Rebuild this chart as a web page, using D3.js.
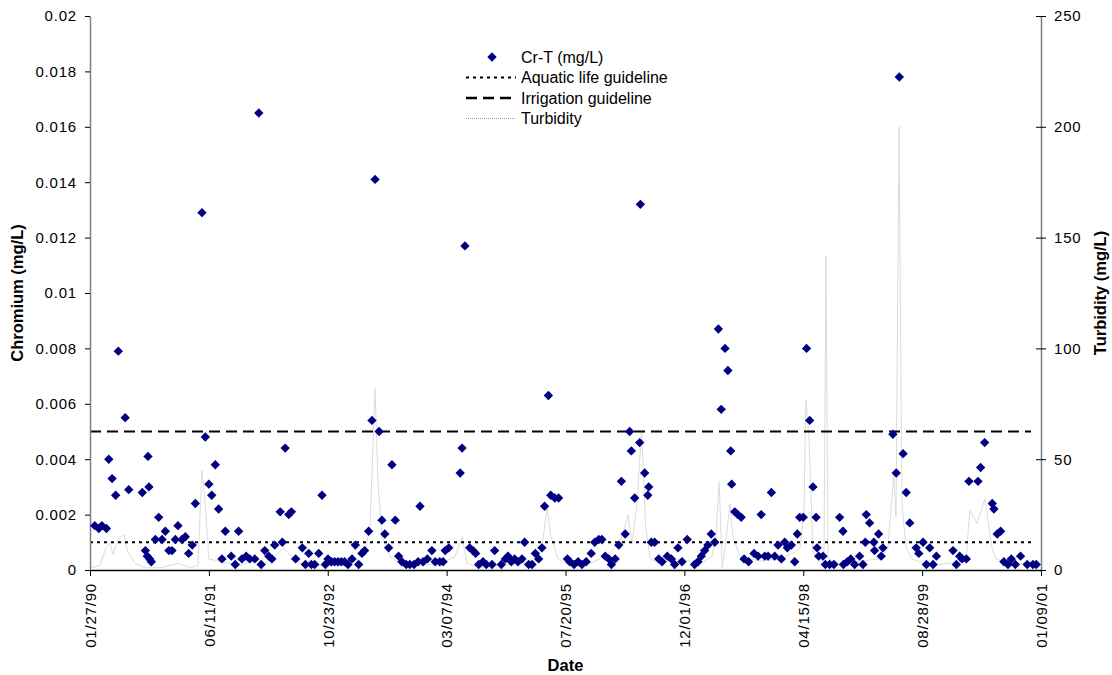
<!DOCTYPE html>
<html>
<head>
<meta charset="utf-8">
<script src="https://cdn.jsdelivr.net/npm/d3@7"></script>
<style>
  body { margin: 0; background: #fff; }
  text { font-family: "Liberation Sans", Arial, sans-serif; fill: #000; }
</style>
</head>
<body>
<svg id="chart" width="1112" height="675"></svg>
<script>
// MARK: Data (days counted from the first axis date, 01/27/90).

const START = new Date(Date.UTC(1990, 0, 27))

const sampleDays = [
  20, 37, 50, 69, 79, 93, 108, 119, 148, 163, 220, 233, 241, 244, 248, 251, 258, 275, 289, 303,
  317, 332, 345, 359, 370, 387, 401, 415, 430, 443, 471, 485, 500, 512, 527, 541, 555, 569, 594, 611,
  625, 639, 657, 672, 693, 710, 720, 735, 752, 765, 777, 800, 809, 821, 836, 847, 865, 893, 906, 920,
  931, 945, 962, 976, 990, 1001, 1015, 1029, 1043, 1057, 1071, 1085, 1102, 1116, 1130, 1144, 1155, 1172, 1186, 1199,
  1216, 1228, 1240, 1256, 1270, 1284, 1298, 1312, 1330, 1345, 1363, 1380, 1388, 1401, 1419, 1438, 1452, 1471, 1485, 1494,
  1509, 1557, 1565, 1577, 1597, 1611, 1622, 1635, 1653, 1667, 1691, 1702, 1730, 1747, 1758, 1772, 1786, 1800, 1817, 1828,
  1845, 1859, 1873, 1887, 1901, 1912, 1928, 1938, 1955, 1971, 2008, 2018, 2036, 2053, 2069, 2087, 2108, 2123, 2140, 2153,
  2167, 2182, 2193, 2209, 2224, 2235, 2251, 2270, 2277, 2291, 2312, 2315, 2333, 2346, 2350, 2361, 2375, 2392, 2406, 2428,
  2445, 2459, 2473, 2490, 2512, 2543, 2557, 2571, 2585, 2599, 2613, 2628, 2643, 2655, 2671, 2683, 2695, 2699, 2712, 2725,
  2739, 2751, 2770, 2793, 2810, 2823, 2838, 2852, 2866, 2880, 2894, 2908, 2922, 2933, 2950, 2964, 2975, 2985, 3000, 3014,
  3027, 3041, 3054, 3058, 3065, 3083, 3093, 3111, 3129, 3153, 3167, 3169, 3185, 3200, 3216, 3237, 3251, 3261, 3265, 3279,
  3297, 3300, 3317, 3328, 3335, 3377, 3391, 3404, 3420, 3433, 3448, 3475, 3486, 3504, 3518, 3532, 3546, 3560, 3630, 3644,
  3658, 3668, 3686, 3697, 3735, 3746, 3763, 3795, 3802, 3816, 3830, 3844, 3861, 3875, 3892, 3914, 3942, 3966, 3980
]

const chromium = [
  0.0016, 0.0015, 0.0016, 0.0015, 0.0040, 0.0033, 0.0027, 0.0079, 0.0055, 0.0029, 0.0028, 0.0007, 0.0005, 0.0041, 0.0030, 0.0004, 0.0003, 0.0011, 0.0019, 0.0011,
  0.0014, 0.0007, 0.0007, 0.0011, 0.0016, 0.0011, 0.0012, 0.0006, 0.0009, 0.0024, 0.0129, 0.0048, 0.0031, 0.0027, 0.0038, 0.0022, 0.0004, 0.0014, 0.0005, 0.0002,
  0.0014, 0.0004, 0.0005, 0.0004, 0.0004, 0.0165, 0.0002, 0.0007, 0.0005, 0.0004, 0.0009, 0.0021, 0.0010, 0.0044, 0.0020, 0.0021, 0.0004, 0.0008, 0.0002, 0.0006,
  0.0002, 0.0002, 0.0006, 0.0027, 0.0002, 0.0004, 0.0003, 0.0003, 0.0003, 0.0003, 0.0003, 0.0002, 0.0004, 0.0009, 0.0002, 0.0006, 0.0007, 0.0014, 0.0054, 0.0141,
  0.0050, 0.0018, 0.0013, 0.0008, 0.0038, 0.0018, 0.0005, 0.0003, 0.0002, 0.0002, 0.0002, 0.0003, 0.0023, 0.0003, 0.0004, 0.0007, 0.0003, 0.0003, 0.0003, 0.0007,
  0.0008, 0.0035, 0.0044, 0.0117, 0.0008, 0.0007, 0.0006, 0.0002, 0.0003, 0.0002, 0.0002, 0.0007, 0.0002, 0.0004, 0.0005, 0.0003, 0.0004, 0.0003, 0.0004, 0.0010,
  0.0002, 0.0002, 0.0006, 0.0004, 0.0008, 0.0023, 0.0063, 0.0027, 0.0026, 0.0026, 0.0004, 0.0003, 0.0002, 0.0003, 0.0002, 0.0003, 0.0006, 0.0010, 0.0011, 0.0011,
  0.0005, 0.0004, 0.0002, 0.0004, 0.0009, 0.0032, 0.0013, 0.0050, 0.0043, 0.0026, 0.0046, 0.0132, 0.0035, 0.0027, 0.0030, 0.0010, 0.0010, 0.0004, 0.0003, 0.0005,
  0.0004, 0.0002, 0.0008, 0.0003, 0.0011, 0.0002, 0.0003, 0.0005, 0.0007, 0.0009, 0.0013, 0.0010, 0.0087, 0.0058, 0.0080, 0.0072, 0.0043, 0.0031, 0.0021, 0.0020,
  0.0019, 0.0004, 0.0003, 0.0006, 0.0005, 0.0020, 0.0005, 0.0005, 0.0028, 0.0005, 0.0009, 0.0004, 0.0010, 0.0008, 0.0009, 0.0003, 0.0013, 0.0019, 0.0019, 0.0080,
  0.0054, 0.0030, 0.0019, 0.0008, 0.0005, 0.0005, 0.0002, 0.0002, 0.0002, 0.0019, 0.0014, 0.0002, 0.0003, 0.0004, 0.0002, 0.0005, 0.0002, 0.0010, 0.0020, 0.0017,
  0.0010, 0.0007, 0.0013, 0.0005, 0.0008, 0.0049, 0.0035, 0.0178, 0.0042, 0.0028, 0.0017, 0.0008, 0.0006, 0.0010, 0.0002, 0.0008, 0.0002, 0.0005, 0.0007, 0.0002,
  0.0005, 0.0004, 0.0004, 0.0032, 0.0032, 0.0037, 0.0046, 0.0024, 0.0022, 0.0013, 0.0014, 0.0003, 0.0002, 0.0004, 0.0002, 0.0005, 0.0002, 0.0002, 0.0002
]

const turbidityDays = [
  0, 42, 67, 84, 97, 118, 143, 156, 189, 231, 294, 336, 370, 421, 454, 471, 488, 500, 547, 589,
  631, 694, 736, 778, 812, 841, 883, 967, 1052, 1115, 1157, 1178, 1190, 1199, 1211, 1228, 1262, 1304, 1388, 1472,
  1535, 1565, 1586, 1640, 1724, 1809, 1872, 1901, 1922, 1939, 1968, 2019, 2103, 2166, 2208, 2238, 2263, 2280, 2301, 2320,
  2337, 2356, 2397, 2482, 2566, 2616, 2633, 2646, 2659, 2671, 2692, 2704, 2734, 2818, 2902, 2965, 2986, 3003, 3011, 3024,
  3041, 3070, 3087, 3096, 3104, 3154, 3238, 3323, 3356, 3381, 3390, 3403, 3415, 3432, 3457, 3533, 3617, 3684, 3701, 3731,
  3764, 3794, 3811, 3870, 3979
]

const turbidity = [
  1, 2, 10, 12, 7, 14, 16, 9, 3, 1, 1, 2, 3, 1, 2, 45, 25, 5, 4, 3,
  2, 5, 3, 6, 10, 7, 3, 2, 2, 4, 8, 20, 55, 82, 40, 15, 6, 3, 2, 3,
  6, 15, 3, 1, 2, 3, 4, 10, 28, 15, 5, 2, 3, 6, 10, 15, 25, 12, 30, 63,
  20, 5, 3, 5, 3, 6, 15, 40, 1, 10, 30, 15, 6, 4, 5, 8, 10, 25, 77, 60,
  8, 3, 5, 142, 5, 3, 4, 5, 10, 44, 24, 200, 30, 10, 5, 2, 3, 4, 27, 21,
  32, 10, 5, 3, 3
]

const guideDays           = [0, 3958]
const aquaticGuideline    = 0.001
const irrigationGuideline = 0.005

const xTickDays      = [0, 500, 1000, 1500, 2000, 2500, 3000, 3500, 4000]
const chromiumTicks  = [0, 0.002, 0.004, 0.006, 0.008, 0.01, 0.012, 0.014, 0.016, 0.018, 0.02]
const turbidityTicks = [0, 50, 100, 150, 200, 250]

const legendItems = ['Cr-T (mg/L)', 'Aquatic life guideline', 'Irrigation guideline', 'Turbidity']

// MARK: Layout.

const LEFT = 90, RIGHT = 1041, TOP = 16, BOTTOM = 570
const NAVY = '#000080'
const AXIS_GREY = '#808080'

const day = (d) => d3.utcDay.offset(START, d)

const svg = d3.select('#chart')

const x  = d3.scaleUtc().domain([day(0), day(4000)]).range([LEFT, RIGHT])
const yL = d3.scaleLinear().domain([0, 0.02]).range([BOTTOM, TOP])
const yR = d3.scaleLinear().domain([0, 250]).range([BOTTOM, TOP])

// Turbidity line, drawn first so that everything sits on top of it.
const turbLine = d3.line()
  .x((d, i) => x(day(turbidityDays[i])))
  .y((d) => yR(d))
svg.append('path')
  .datum(turbidity)
  .attr('d', turbLine)
  .attr('fill', 'none')
  .attr('stroke', '#dcdcdc')
  .attr('stroke-width', 1)

// Guidelines.
const guideLine = (value) => d3.line()
  .x((d) => x(day(d)))
  .y(() => yL(value))(guideDays)

svg.append('path')
  .attr('d', guideLine(aquaticGuideline))
  .attr('stroke', '#000')
  .attr('stroke-width', 2)
  .attr('stroke-dasharray', '3,4')
  .attr('fill', 'none')

svg.append('path')
  .attr('d', guideLine(irrigationGuideline))
  .attr('stroke', '#000')
  .attr('stroke-width', 2)
  .attr('stroke-dasharray', '11,6')
  .attr('fill', 'none')

// Axes.
const leftAxis = svg.append('g')
  .attr('transform', `translate(${LEFT},0)`)
  .call(d3.axisLeft(yL)
    .tickValues(chromiumTicks)
    .tickSizeInner(5)
    .tickSizeOuter(0)
    .tickPadding(8)
    .tickFormat((d) => d === 0 ? '0' : String(+d.toFixed(3))))

const rightAxis = svg.append('g')
  .attr('transform', `translate(${RIGHT},0)`)
  .call(d3.axisRight(yR)
    .tickValues(turbidityTicks)
    .tickSizeInner(5)
    .tickSizeOuter(0)
    .tickPadding(8))
rightAxis.selectAll('.tick line').attr('x1', -5)

const bottomAxis = svg.append('g')
  .attr('transform', `translate(0,${BOTTOM})`)
  .call(d3.axisBottom(x)
    .tickValues(xTickDays.map(day))
    .tickSizeInner(6)
    .tickSizeOuter(0)
    .tickFormat(d3.utcFormat('%m/%d/%y')))
bottomAxis.selectAll('text')
  .attr('transform', 'rotate(-90)')
  .attr('text-anchor', 'end')
  .attr('x', -13)
  .attr('y', 0)
  .attr('dy', '0.35em')

for (const axis of [leftAxis, rightAxis, bottomAxis]) {
  axis.selectAll('text')
    .attr('font-size', 15)
    .attr('letter-spacing', 0.8)
    .attr('font-family', '"Liberation Sans", Arial, sans-serif')
  axis.selectAll('line').attr('stroke', '#000')
}
leftAxis.select('.domain').attr('stroke', AXIS_GREY).attr('stroke-width', 1.5)
rightAxis.select('.domain').attr('stroke', AXIS_GREY).attr('stroke-width', 1.5)
bottomAxis.select('.domain').attr('stroke', '#000').attr('stroke-width', 1.5)

// Chromium diamonds.
const diamond = d3.symbol(d3.symbolSquare, 44)
svg.append('g').selectAll('path')
  .data(chromium)
  .join('path')
  .attr('d', diamond)
  .attr('transform', (d, i) => `translate(${x(day(sampleDays[i]))},${yL(d)}) rotate(45)`)
  .attr('fill', NAVY)

// Axis titles.
svg.append('text')
  .attr('transform', `translate(23,${(TOP + BOTTOM) / 2}) rotate(-90)`)
  .attr('text-anchor', 'middle')
  .attr('font-size', 16.5)
  .attr('font-weight', 'bold')
  .text('Chromium (mg/L)')

svg.append('text')
  .attr('transform', `translate(1106,${(TOP + BOTTOM) / 2}) rotate(-90)`)
  .attr('text-anchor', 'middle')
  .attr('font-size', 16.5)
  .attr('font-weight', 'bold')
  .text('Turbidity (mg/L)')

svg.append('text')
  .attr('x', (LEFT + RIGHT) / 2)
  .attr('y', 671)
  .attr('text-anchor', 'middle')
  .attr('font-size', 16.5)
  .attr('font-weight', 'bold')
  .text('Date')

// Legend.
const legend = svg.append('g').attr('transform', 'translate(466,57)')
const rows = legend.selectAll('g')
  .data(legendItems)
  .join('g')
  .attr('transform', (d, i) => `translate(0,${i * 20.5})`)

rows.append('text')
  .attr('x', 55)
  .attr('dy', '0.35em')
  .attr('font-size', 16)
  .text((d) => d)

rows.filter((d, i) => i === 0).append('path')
  .attr('d', diamond)
  .attr('transform', 'translate(26,0) rotate(45)')
  .attr('fill', NAVY)

const legendStyles = [null, ['#000', 2, '3,4'], ['#000', 2.5, '11,6'], ['#999', 1, '1,1']]
rows.filter((d, i) => i > 0).append('line')
  .attr('x1', 0)
  .attr('x2', 50)
  .attr('stroke', (d, i) => legendStyles[i + 1][0])
  .attr('stroke-width', (d, i) => legendStyles[i + 1][1])
  .attr('stroke-dasharray', (d, i) => legendStyles[i + 1][2])
</script>
</body>
</html>
